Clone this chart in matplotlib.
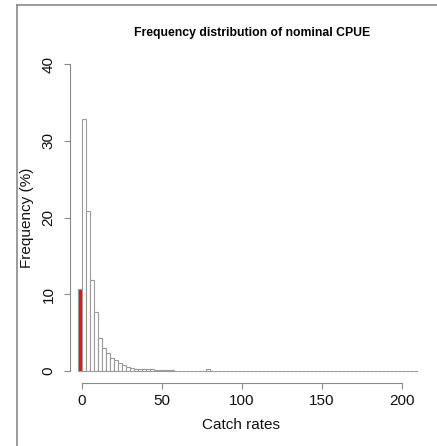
import numpy as np
import matplotlib
matplotlib.use('Agg')
import matplotlib.pyplot as plt
from matplotlib.lines import Line2D

# histogram of nominal CPUE, bins of 2.5 starting at -2.5 (first bin = zero catches)
bin_start = -2.5
bin_width = 2.5
freq = [10.7, 32.8, 20.9, 11.9, 7.7, 4.3, 3.0, 2.4, 1.7, 1.4,
        1.1, 0.8, 0.5, 0.35, 0.3, 0.3, 0.3, 0.25, 0.2, 0.15,
        0.1, 0.1, 0.1, 0.1, 0.05, 0.05, 0.02, 0.02, 0.02, 0.02,
        0.02, 0.02, 0.25, 0.0, 0.0, 0.0, 0.05, 0.0, 0.05, 0.0,
        0.0, 0.0, 0.0, 0.0, 0.0, 0.0, 0.0, 0.0, 0.0, 0.0,
        0.0, 0.0, 0.0, 0.0, 0.0, 0.0, 0.0, 0.0, 0.0, 0.0,
        0.0, 0.0, 0.0, 0.0, 0.0, 0.0, 0.0, 0.0, 0.0, 0.0,
        0.0, 0.0, 0.0, 0.0, 0.0, 0.0, 0.0, 0.0, 0.0, 0.0,
        0.0, 0.0, 0.0, 0.0, 0.0]
x_ticks = [0, 50, 100, 150, 200]
y_ticks = [0, 10, 20, 30, 40]

plt.rcParams['font.family'] = ['Liberation Sans', 'DejaVu Sans']

W, H = 437, 446
fig = plt.figure(figsize=(W / 100, H / 100), dpi=100)

# axes box in pixels: left 70, right 418, top 64, bottom 382.7
ax_top, ax_bot = 64, 382.7
ax = fig.add_axes([70 / W, (H - ax_bot) / H, 348 / W, (ax_bot - ax_top) / H])

edges = bin_start + bin_width * np.arange(len(freq))
colors = ['white'] * len(freq)
colors[0] = '#e0141a'
ax.bar(edges, freq, width=bin_width, align='edge', color=colors,
       edgecolor='#9a9a9a', linewidth=0.8)

ax.set_xlim(-7.5, 210)
ax.set_ylim(-1.52, 40)

for s in ['top', 'right']:
    ax.spines[s].set_visible(False)
ax.spines['left'].set_bounds(0, 40)
ax.spines['bottom'].set_bounds(0, 200)
for s in ['left', 'bottom']:
    ax.spines[s].set_color('#8a8a8a')
    ax.spines[s].set_linewidth(0.8)

ax.set_xticks(x_ticks)
ax.set_yticks(y_ticks)
ax.set_yticklabels([str(v) for v in y_ticks], rotation=90, va='center')
ax.tick_params(direction='out', length=4.3, width=0.8, color='#8a8a8a',
               labelsize=11, labelcolor='#111111')
ax.tick_params(axis='x', pad=4)
ax.tick_params(axis='y', pad=6)

ax.set_xlabel('Catch rates', fontsize=11, color='#111111')
ax.xaxis.set_label_coords(0.5 - 3 / 348, -(425 - ax_bot) / (ax_bot - ax_top), transform=ax.transAxes)
ax.xaxis.label.set_va('center')

fig.text(27 / W, (H - 218) / H, 'Frequency (%)', rotation=90,
         rotation_mode='anchor', ha='center', va='center',
         fontsize=11, color='#111111')

fig.text(252 / W, (H - 33) / H, 'Frequency distribution of nominal CPUE',
         ha='center', va='center', fontsize=8.8, fontweight='bold')

# outer frame of the original figure (cropped)
fig.add_artist(Line2D([16.5 / W, 1], [(H - 5) / H, (H - 5) / H],
                      transform=fig.transFigure, color='#8a8a8a', linewidth=1.2))
fig.add_artist(Line2D([16.5 / W, 16.5 / W], [0, (H - 5) / H],
                      transform=fig.transFigure, color='#8a8a8a', linewidth=1.2))

fig.savefig('out.png', dpi=100)
